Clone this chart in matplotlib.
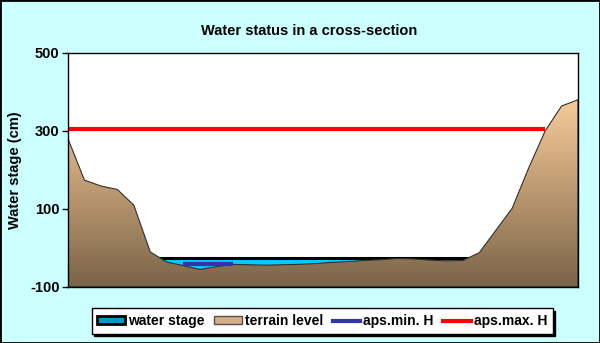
import numpy as np
import matplotlib.pyplot as plt
from matplotlib.patches import Rectangle, Patch
from matplotlib.lines import Line2D
from matplotlib.colors import LinearSegmentedColormap

plt.rcParams['font.family'] = ['Liberation Sans', 'DejaVu Sans']
plt.rcParams['axes.unicode_minus'] = False

# terrain profile across the section (cm), 32 survey points
terrain = [280, 174, 159, 150, 110, -10, -36, -45, -55, -48, -42, -43, -44, -43, -42, -40,
           -37, -35, -32, -30, -27, -28, -31, -33, -32, -12, 45, 102, 205, 300, 364, 380]
water_level = -25
aps_min = -42
aps_min_range = (7, 10)
aps_max = 305
aps_max_range = (0, 29)
yticks = [-100, 100, 300, 500]
labels = ['water stage', 'terrain level', 'aps.min. H', 'aps.max. H']

x = np.arange(len(terrain))
bg = '#CCFFFF'

fig = plt.figure(figsize=(6, 3.43), dpi=100, facecolor=bg)
ax = fig.add_axes([68/600, 1-287/343, 510/600, 234/343])
ax.set_facecolor('white')

# water as area chart behind terrain
ax.fill_between(x, -100, np.full(len(x), water_level), facecolor='#00CCFF',
                edgecolor='black', linewidth=2.2, zorder=1)

# terrain with vertical gradient
terr = ax.fill_between(x, -100, terrain, facecolor='none', edgecolor='#303030',
                       linewidth=0.8, zorder=3)
cmap = LinearSegmentedColormap.from_list('terr', ['#7A6448', '#C09C74', '#FFD3A0'])
grad = np.linspace(0, 1, 256).reshape(-1, 1)
im = ax.imshow(grad, cmap=cmap, origin='lower', aspect='auto',
               extent=[0, 31, -100, 420], zorder=2)
im.set_clip_path(terr.get_paths()[0], transform=ax.transData)

ax.plot(aps_min_range, [aps_min, aps_min], color='#3333AA', linewidth=3, zorder=4,
        solid_capstyle='butt')
ax.plot(aps_max_range, [aps_max, aps_max], color='#FF0000', linewidth=3, zorder=4,
        solid_capstyle='butt')

ax.set_xlim(0, 31)
ax.set_ylim(-100, 500)
ax.set_xticks([])
ax.set_yticks(yticks)
ax.tick_params(axis='y', direction='out', length=4, width=1, labelsize=10.5, pad=2)
for t in ax.get_yticklabels():
    t.set_fontweight('bold')
for s in ax.spines.values():
    s.set_linewidth(1)
    s.set_zorder(6)
ax.set_ylabel('Water stage (cm)', fontsize=10.5, fontweight='bold')
ax.yaxis.set_label_coords(-0.09, 0.5)

fig.text(0.516, 0.911, 'Water status in a cross-section', ha='center', va='center',
         fontsize=10.5, fontweight='bold')

handles = [Patch(facecolor='#0099CC', edgecolor='black', linewidth=2),
           Patch(facecolor='#D8B088', edgecolor='#505050', linewidth=1),
           Line2D([], [], color='#3333AA', linewidth=3),
           Line2D([], [], color='#FF0000', linewidth=3)]
leg = fig.legend(handles, labels, loc='center', bbox_to_anchor=(0.537, 0.064), ncol=4,
                 prop={'weight': 'bold', 'size': 10}, frameon=True,
                 fancybox=False, shadow={'color': 'black', 'alpha': 1},
                 handlelength=2.0, handleheight=0.5, handletextpad=0.2,
                 columnspacing=0.7, borderpad=0.4)
leg.get_frame().set_edgecolor('black')
leg.get_frame().set_linewidth(1)

fig.patches.append(Rectangle((0, 0), 1, 1, transform=fig.transFigure, fill=False,
                             edgecolor='black', linewidth=2))

fig.savefig('out.png', dpi=100, facecolor=bg)
